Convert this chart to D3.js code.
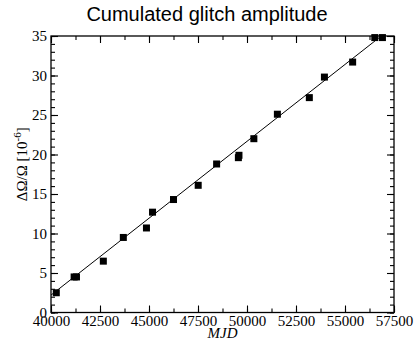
<!DOCTYPE html>
<html>
  <head>
    <meta charset="utf-8">
    <title>Cumulated glitch amplitude</title>
    <style>
      body { margin: 0; background: white; }
      svg { display: block; }
      .title { font-family: "Liberation Sans", Arial, sans-serif; font-size: 20px; }
      .lbl { font-family: "Liberation Serif", "Times New Roman", serif; font-size: 15px; fill: black; }
    </style>
  </head>
  <body>
    <svg width="414" height="339"></svg>
    <script src="https://d3js.org/d3.v7.min.js"></script>
    <script>
      // glitch epochs (MJD) and cumulated amplitude (1e-6)
      const mjd = [40270, 41180, 41300, 42670, 43690, 44870, 45180, 46250, 47510, 48450,
                   49560, 49590, 50350, 51550, 53180, 53950, 55390, 56520, 56910];
      const amp = [2.5, 4.5, 4.5, 6.5, 9.5, 10.7, 12.7, 14.3, 16.1, 18.8,
                   19.6, 19.9, 22.0, 25.1, 27.2, 29.8, 31.7, 34.8, 34.8];
      // linear fit drawn through the points
      const fitX = [40000, 56850];
      const fitY = [2.2, 35];
      const xTicks = [40000, 42500, 45000, 47500, 50000, 52500, 55000, 57500];
      const yTicks = [0, 5, 10, 15, 20, 25, 30, 35];

      const svg = d3.select("svg");
      const width = +svg.attr("width");
      const height = +svg.attr("height");
      const margin = { top: 36, right: 20, bottom: 26.5, left: 51 };
      const w = width - margin.left - margin.right;
      const h = height - margin.top - margin.bottom;

      const x = d3.scaleLinear().domain([40000, 57500]).range([0, w]);
      const y = d3.scaleLinear().domain([0, 35]).range([h, 0]);

      const xMinor = d3.range(40000, 57501, 1250);
      const yMinor = d3.range(0, 35.5, 1);

      svg.append("text")
        .attr("class", "title")
        .attr("x", width / 2)
        .attr("y", 21)
        .attr("text-anchor", "middle")
        .text("Cumulated glitch amplitude");

      const g = svg.append("g").attr("transform", `translate(${margin.left},${margin.top})`);

      g.append("clipPath").attr("id", "clip")
        .append("rect").attr("width", w).attr("height", h);

      // inward ticks on all four sides, minor first then major
      function drawAxis(ax, tr, minor, major, labels, pad) {
        const mg = g.append("g").attr("transform", tr)
          .call(ax.tickValues(minor).tickSizeInner(-4).tickSizeOuter(0).tickFormat(""));
        mg.select(".domain").remove();
        mg.selectAll("text").remove();
        const Mg = g.append("g").attr("transform", tr)
          .call(ax.tickValues(major).tickSizeInner(-7).tickPadding(pad)
            .tickFormat(labels ? d3.format("d") : ""))
          .attr("font-family", '"Liberation Serif", "Times New Roman", serif')
          .attr("font-size", 15);
        Mg.select(".domain").remove();
        if (!labels) Mg.selectAll("text").remove();
      }

      drawAxis(d3.axisBottom(x), `translate(0,${h})`, xMinor, xTicks, true, 3);
      drawAxis(d3.axisTop(x), "", xMinor, xTicks, false, 3);
      drawAxis(d3.axisLeft(y), "", yMinor, yTicks, true, 4);
      drawAxis(d3.axisRight(y), `translate(${w},0)`, yMinor, yTicks, false, 4);

      g.selectAll(".tick line").attr("stroke", "black").attr("stroke-width", 1.1);
      g.selectAll(".tick text").attr("fill", "black");

      g.append("rect")
        .attr("width", w).attr("height", h)
        .attr("fill", "none").attr("stroke", "black").attr("stroke-width", 1.3);

      g.append("line")
        .attr("clip-path", "url(#clip)")
        .attr("x1", x(fitX[0])).attr("y1", y(fitY[0]))
        .attr("x2", x(fitX[1])).attr("y2", y(fitY[1]))
        .attr("stroke", "black").attr("stroke-width", 1);

      const s = 7;
      g.selectAll("rect.pt")
        .data(mjd)
        .enter()
          .append("rect")
          .attr("class", "pt")
          .attr("x", d => x(d) - s / 2)
          .attr("y", (d, i) => y(amp[i]) - s / 2)
          .attr("width", s).attr("height", s)
          .attr("fill", "black");

      svg.append("text")
        .attr("class", "lbl")
        .attr("transform", `translate(${margin.left + w / 2},338)`)
        .attr("text-anchor", "middle")
        .style("font-style", "italic")
        .text("MJD");

      const yl = svg.append("text")
        .attr("class", "lbl")
        .attr("transform", `translate(27,${margin.top + h / 2 - 10}) rotate(-90)`)
        .attr("text-anchor", "middle");
      yl.append("tspan").text("ΔΩ/Ω [10");
      yl.append("tspan").attr("dy", -6).style("font-size", "11px").text("-6");
      yl.append("tspan").attr("dy", 6).text("]");
    </script>
  </body>
</html>
